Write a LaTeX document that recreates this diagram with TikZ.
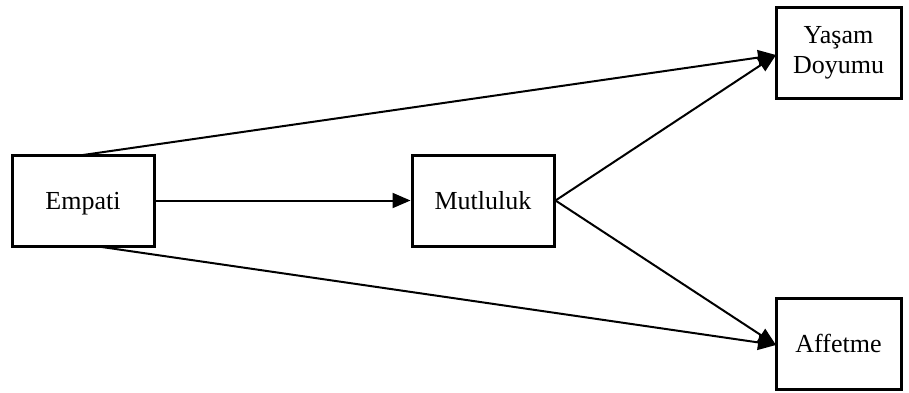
\documentclass[tikz,border=0pt]{standalone}
\usepackage{fontspec}
\setmainfont{Liberation Serif}
\usetikzlibrary{arrows.meta}
\begin{document}
\begin{tikzpicture}[x=1pt,y=-1pt,
  varbox/.style={draw=black,line width=3pt,fill=white,inner sep=0pt,
    font=\fontsize{26}{30}\selectfont,align=center},
  oneline/.style={text height=17pt,text depth=0pt},
  link/.style={line width=2pt,-{Triangle[length=18pt,width=15pt]}}]
  \useasboundingbox (0,0) rectangle (909,392);
  \node[varbox,oneline,minimum width=142pt,minimum height=91pt] (emp) at (83,200.5) {Empati};
  \node[varbox,oneline,minimum width=142pt,minimum height=91pt] (mut) at (483,200.5) {Mutluluk};
  \node[varbox,minimum width=125pt,minimum height=91pt] (yas) at (838.5,52.5) {Yaşam\\Doyumu};
  \node[varbox,oneline,minimum width=125pt,minimum height=91pt] (aff) at (838.5,344) {Affetme};
  \coordinate (empTop) at (83,155);
  \coordinate (empBot) at (95,246);
  \coordinate (yasIn) at (776,55);
  \coordinate (affIn) at (776,345);
  \draw[link] (emp.east) -- (mut.west);
  \draw[link] (empTop) -- (yasIn);
  \draw[link] (empBot) -- (affIn);
  \draw[link] (mut.east) -- (yasIn);
  \draw[link] (mut.east) -- (affIn);
\end{tikzpicture}
\end{document}
